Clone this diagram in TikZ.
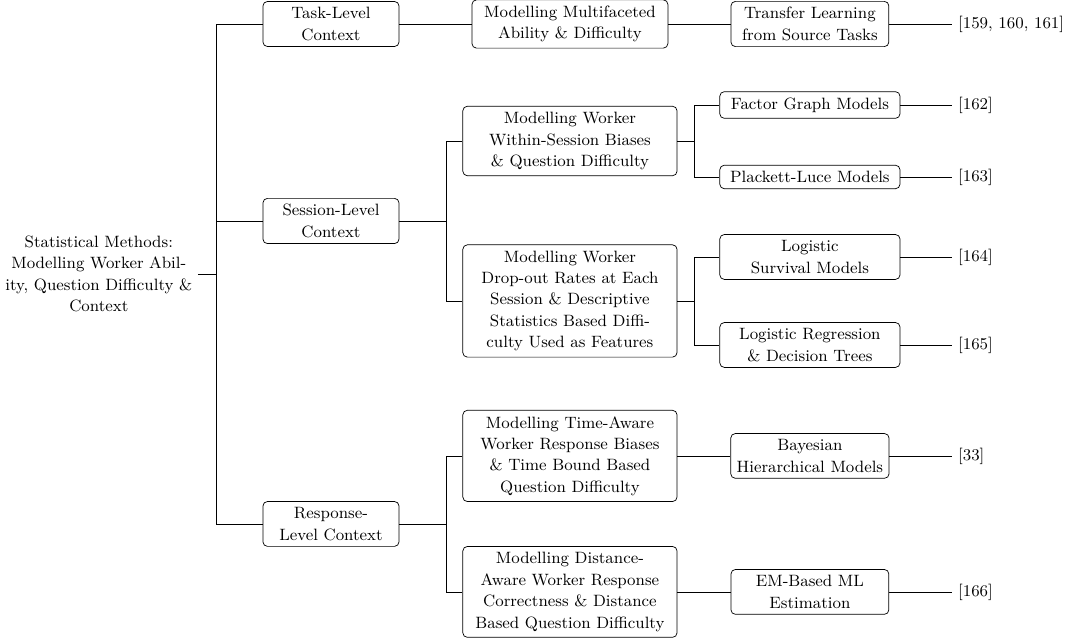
\documentclass[tikz,border=0pt]{standalone}
\usetikzlibrary{positioning}
\tikzset{
	rootnode/.style={align=center, inner sep=3pt},
	levelone/.style={rectangle, rounded corners=2.5pt, draw, align=center, minimum width=2.68cm},
	leveltwo/.style={rectangle, rounded corners=2.5pt, draw, align=center, minimum width=4.22cm},
	narrowtwo/.style={leveltwo, minimum width=3.86cm},
	levelthree/.style={rectangle, rounded corners=2.5pt, draw, align=center, minimum width=3.55cm},
	narrowthree/.style={levelthree, minimum width=3.11cm},
	refnode/.style={anchor=west},
	fork/.style={draw, line width=0.45pt},
}

\begin{document}
\begin{tikzpicture}[every node/.append style={font=\fontsize{9.2}{12}\selectfont}]
	\useasboundingbox (0,0) rectangle (21.20,-12.57);
	% root and first level
	\node[rootnode, anchor=east] (root) at (3.90,-5.398) {Statistical Methods:\\Modelling Worker Abil-\\ity, Question Difficulty \&\\Context};
	\node[levelone] (task) at (6.521,-0.473) {Task-Level\\Context};
	\node[levelone] (session) at (6.521,-4.354) {Session-Level\\Context};
	\node[levelone] (response) at (6.521,-10.323) {Response-\\Level Context};
	% second level
	\node[narrowtwo] (multi) at (11.229,-0.473) {Modelling Multifaceted\\Ability \& Difficulty};
	\node[leveltwo] (within) at (11.229,-2.778) {Modelling Worker\\Within-Session Biases\\\& Question Difficulty};
	\node[leveltwo] (dropout) at (11.229,-5.930) {Modelling Worker\\Drop-out Rates at Each\\Session \& Descriptive\\Statistics Based Diffi-\\culty Used as Features};
	\node[leveltwo] (timeaware) at (11.229,-8.983) {Modelling Time-Aware\\Worker Response Biases\\\& Time Bound Based\\Question Difficulty};
	\node[leveltwo] (distance) at (11.229,-11.662) {Modelling Distance-\\Aware Worker Response\\Correctness \& Distance\\Based Question Difficulty};
	% third level
	\node[narrowthree] (transfer) at (15.957,-0.473) {Transfer Learning\\from Source Tasks};
	\node[levelthree] (factor) at (15.957,-2.069) {Factor Graph Models};
	\node[levelthree] (plackett) at (15.957,-3.487) {Plackett-Luce Models};
	\node[levelthree] (survival) at (15.957,-5.063) {Logistic\\Survival Models};
	\node[levelthree] (regression) at (15.957,-6.797) {Logistic Regression\\\& Decision Trees};
	\node[narrowthree] (bayes) at (15.957,-8.983) {Bayesian\\Hierarchical Models};
	\node[narrowthree] (embased) at (15.957,-11.662) {EM-Based ML\\Estimation};
	% references
	\node[refnode] (reftransfer) at (18.754,-0.473) {[159, 160, 161]};
	\node[refnode] (reffactor) at (18.754,-2.069) {[162]};
	\node[refnode] (refplackett) at (18.754,-3.487) {[163]};
	\node[refnode] (refsurvival) at (18.754,-5.063) {[164]};
	\node[refnode] (refregression) at (18.754,-6.797) {[165]};
	\node[refnode] (refbayes) at (18.754,-8.983) {[33]};
	\node[refnode] (refembased) at (18.754,-11.662) {[166]};
	% forks
	\coordinate (trunk) at (4.255,-5.398);
	\coordinate (sessionfork) at (8.786,-4.354);
	\coordinate (responsefork) at (8.786,-10.323);
	\coordinate (withinfork) at (13.672,-2.778);
	\coordinate (dropoutfork) at (13.672,-5.930);
	\draw[fork] (root.east) -- (trunk);
	\foreach \c in {task,session,response}{\draw[fork] (trunk) |- (\c.west);}
	\draw[fork] (session.east) -- (sessionfork);
	\foreach \c in {within,dropout}{\draw[fork] (sessionfork) |- (\c.west);}
	\draw[fork] (response.east) -- (responsefork);
	\foreach \c in {timeaware,distance}{\draw[fork] (responsefork) |- (\c.west);}
	\draw[fork] (within.east) -- (withinfork);
	\foreach \c in {factor,plackett}{\draw[fork] (withinfork) |- (\c.west);}
	\draw[fork] (dropout.east) -- (dropoutfork);
	\foreach \c in {survival,regression}{\draw[fork] (dropoutfork) |- (\c.west);}
	% straight edges
	\foreach \a/\b in {task/multi,multi/transfer,timeaware/bayes,distance/embased}{\draw[fork] (\a.east) -- (\b.west);}
	\foreach \a in {transfer,factor,plackett,survival,regression,bayes,embased}{\draw[fork] (\a.east) -- (ref\a.west);}
\end{tikzpicture}
\end{document}
